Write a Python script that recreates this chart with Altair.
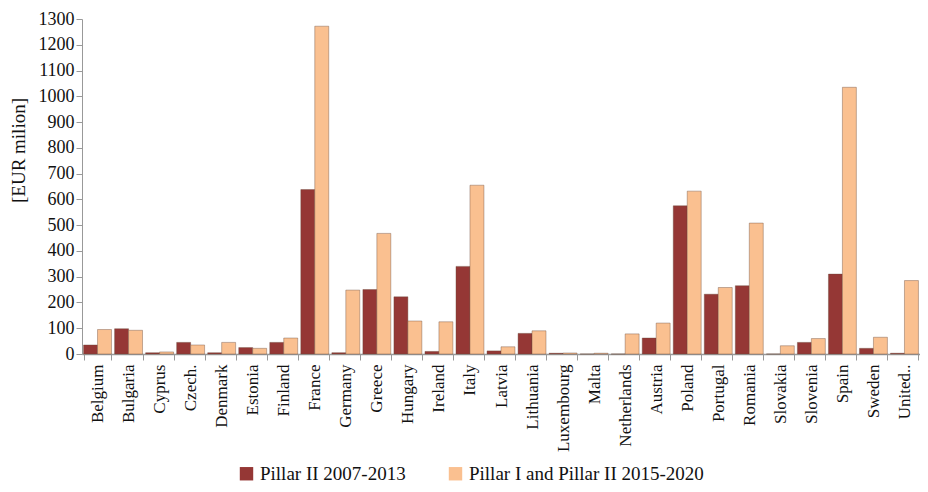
import altair as alt
import pandas as pd

countries = ["Belgium", "Bulgaria", "Cyprus", "Czech.", "Denmark", "Estonia", "Finland",
             "France", "Germany", "Greece", "Hungary", "Ireland", "Italy", "Latvia",
             "Lithuania", "Luxembourg", "Malta", "Netherlands", "Austria", "Poland",
             "Portugal", "Romania", "Slovakia", "Slovenia", "Spain", "Sweden", "United.."]
pillar2 = [35, 98, 5, 45, 5, 25, 45, 638, 5, 250, 222, 10, 340, 12, 80, 3, 0, 0, 62,
           575, 232, 265, 0, 45, 310, 22, 3]
pillar12 = [95, 92, 8, 35, 45, 22, 62, 1272, 248, 468, 128, 125, 655, 28, 90, 4, 3, 78,
            120, 632, 258, 508, 32, 60, 1035, 65, 285]
series = ["Pillar II 2007-2013", "Pillar I and Pillar II 2015-2020"]
colors = ["#953735", "#FAC090"]
yticks = list(range(0, 1301, 100))

rows = []
for i, c in enumerate(countries):
    rows.append({"country": c, "series": series[0], "value": pillar2[i]})
    rows.append({"country": c, "series": series[1], "value": pillar12[i]})
df = pd.DataFrame(rows)

font = "Liberation Serif"

chart = alt.Chart(df).mark_bar(stroke="#6b4a3a", strokeWidth=0.4).encode(
    x=alt.X("country:N", sort=countries, title=None,
            scale=alt.Scale(paddingInner=0.1, paddingOuter=0.05),
            axis=alt.Axis(labelAngle=-90, labelAlign="right", labelBaseline="middle",
                          labelFont=font, labelFontSize=17, labelColor="#111",
                          tickBand="extent", domainColor="#999", domainWidth=1.5,
                          tickColor="#999", tickSize=6, labelPadding=4,
                          labelOverlap=False)),
    xOffset=alt.XOffset("series:N", sort=series),
    y=alt.Y("value:Q", title="[EUR milion]",
            scale=alt.Scale(domain=[0, 1300], nice=False),
            axis=alt.Axis(values=yticks, format="d", labelOverlap=False, grid=False,
                          labelFont=font, labelFontSize=18, labelColor="#111",
                          domainColor="#999", tickColor="#999", tickSize=6,
                          titleFont=font, titleFontSize=19, titleFontWeight="normal",
                          titleColor="#111", titleAngle=-90, titleX=-64, titleY=131,
                          titleAlign="center", titleBaseline="middle")),
    color=alt.Color("series:N", sort=series,
                    scale=alt.Scale(domain=series, range=colors),
                    legend=alt.Legend(title=None, orient="none", direction="horizontal",
                                      legendX=155, legendY=445, symbolType="square",
                                      symbolSize=180, symbolStrokeWidth=0,
                                      labelFont=font, labelFontSize=19, labelColor="#111",
                                      labelLimit=0, columnPadding=40, symbolOpacity=1)),
).properties(
    width=838, height=335,
    padding={"left": 74, "top": 11, "right": 0, "bottom": 130},
    autosize=alt.AutoSizeParams(type="none"),
).configure_view(stroke=None)

chart.save("out.html", embed_options={"renderer": "svg", "actions": False})
